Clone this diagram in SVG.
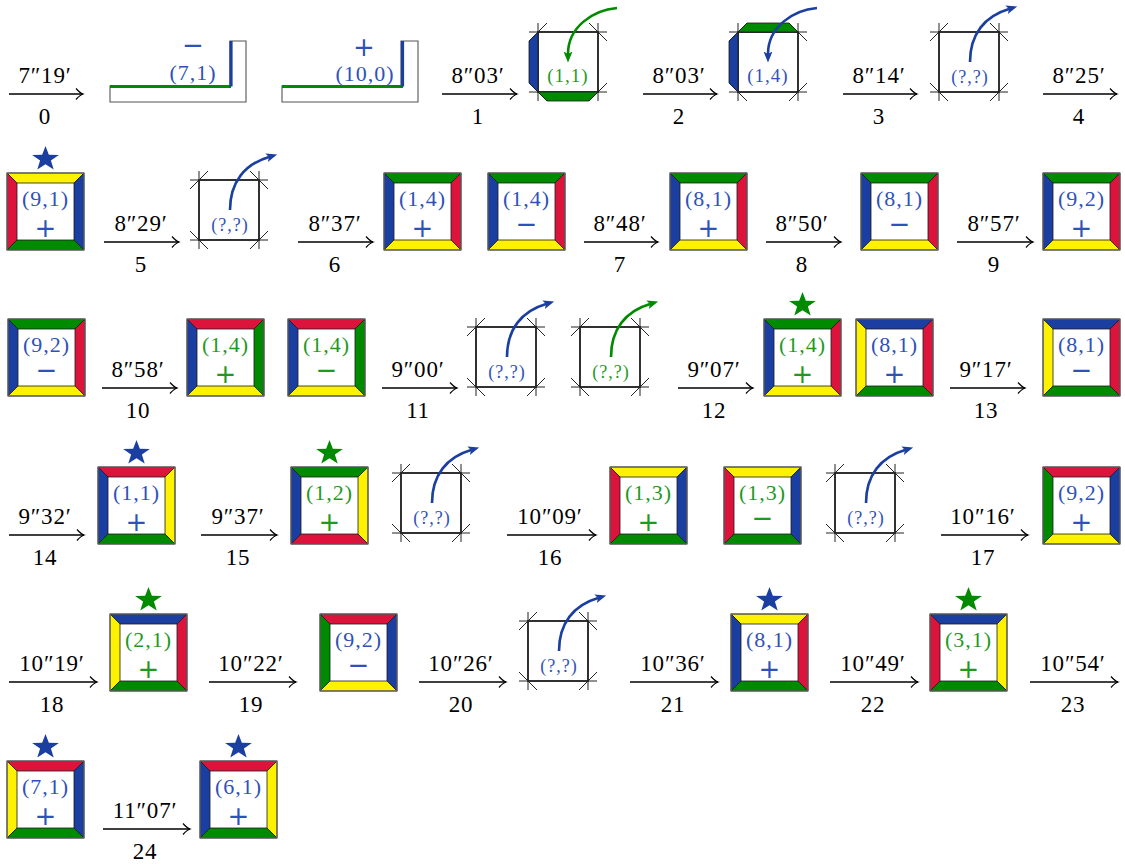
<svg xmlns="http://www.w3.org/2000/svg" width="1125" height="864" viewBox="0 0 1125 864">
<style>
.t{font-family:"Liberation Serif","DejaVu Serif","Times New Roman",serif;font-size:23px;letter-spacing:0.8px;fill:#000;text-anchor:middle}
.c{font-family:"Liberation Serif","DejaVu Serif","Times New Roman",serif;font-size:22px;letter-spacing:1px;text-anchor:middle}
.q{font-family:"Liberation Serif","DejaVu Serif","Times New Roman",serif;font-size:18px;letter-spacing:1px;text-anchor:middle}
.s{font-family:"DejaVu Sans",sans-serif;font-size:26px;text-anchor:middle}
.tb{fill:#2f52b8}.tg{fill:#1f9a1f}
.Y{fill:#fff200}.R{fill:#dc143c}.B{fill:#1b3fa0}.G{fill:#008a00}
.p{stroke:#1a1a1a;stroke-width:0.8}
.fo{fill:none;stroke:#666;stroke-width:1.2}
.sq{fill:none;stroke:#111;stroke-width:1.6}
.ext{fill:none;stroke:#222;stroke-width:1}
.ar{fill:none;stroke:#000;stroke-width:1.3;marker-end:url(#ah)}
.cb{fill:none;stroke:#1b3fa0;stroke-width:2.6;marker-end:url(#hb)}
.cg{fill:none;stroke:#008a00;stroke-width:2.6;marker-end:url(#hg)}
</style>
<defs>
<path id="pt" d="M0,0H77L67,10H10Z"/>
<path id="pb" d="M0,77H77L67,67H10Z"/>
<path id="pl" d="M0,0L10,10V67L0,77Z"/>
<path id="pr" d="M77,0L67,10V67L77,77Z"/>
<polygon id="st" points="0,-13 3.1,-4.3 12.4,-4 5,1.6 7.6,10.5 0,5.3 -7.6,10.5 -5,1.6 -12.4,-4 -3.1,-4.3" transform="scale(1.08,1)"/>
<path id="ex" class="ext" d="M-9,0H69M-9,60H69M0,-9V69M60,-9V69M-9,9L9,-9M51,-9L69,9M-9,51L9,69M51,69L69,51"/>
<marker id="ah" viewBox="-8 -7 10 14" markerWidth="10" markerHeight="14" refX="0" refY="0" orient="auto" markerUnits="userSpaceOnUse"><path d="M-7,-5.5Q-3,-1 0,0Q-3,1 -7,5.5" fill="none" stroke="#000" stroke-width="1.2"/></marker>
<marker id="hb" viewBox="0 -5 12 10" markerWidth="12" markerHeight="10" refX="2.5" refY="0" orient="auto" markerUnits="userSpaceOnUse"><path d="M0,-4.5L11,0L0,4.5L2.5,0Z" fill="#1b3fa0"/></marker>
<marker id="hg" viewBox="0 -5 12 10" markerWidth="12" markerHeight="10" refX="2.5" refY="0" orient="auto" markerUnits="userSpaceOnUse"><path d="M0,-4.5L11,0L0,4.5L2.5,0Z" fill="#008a00"/></marker>
</defs>

<g id="connectors">
<path class="ar" d="M9,94H83"/><text class="t" x="45" y="83">7″19′</text><text class="t" x="45" y="124">0</text>
<path class="ar" d="M442,94H517"/><text class="t" x="478" y="83">8″03′</text><text class="t" x="478" y="124">1</text>
<path class="ar" d="M643,94H717"/><text class="t" x="679" y="83">8″03′</text><text class="t" x="679" y="124">2</text>
<path class="ar" d="M843,94H917"/><text class="t" x="879" y="83">8″14′</text><text class="t" x="879" y="124">3</text>
<path class="ar" d="M1043,94H1117"/><text class="t" x="1079" y="83">8″25′</text><text class="t" x="1079" y="124">4</text>

<path class="ar" d="M104,242H179"/><text class="t" x="141" y="231">8″29′</text><text class="t" x="141" y="272">5</text>
<path class="ar" d="M298,242H373"/><text class="t" x="335" y="231">8″37′</text><text class="t" x="335" y="272">6</text>
<path class="ar" d="M584,242H658"/><text class="t" x="620" y="231">8″48′</text><text class="t" x="620" y="272">7</text>
<path class="ar" d="M766,242H841"/><text class="t" x="802" y="231">8″50′</text><text class="t" x="802" y="272">8</text>
<path class="ar" d="M957,242H1033"/><text class="t" x="994" y="231">8″57′</text><text class="t" x="994" y="272">9</text>

<path class="ar" d="M102,388H177"/><text class="t" x="138" y="377">8″58′</text><text class="t" x="138" y="418">10</text>
<path class="ar" d="M382,388H457"/><text class="t" x="418" y="377">9″00′</text><text class="t" x="418" y="418">11</text>
<path class="ar" d="M678,388H753"/><text class="t" x="714" y="377">9″07′</text><text class="t" x="714" y="418">12</text>
<path class="ar" d="M950,388H1025"/><text class="t" x="986" y="377">9″17′</text><text class="t" x="986" y="418">13</text>

<path class="ar" d="M9,535H84"/><text class="t" x="45" y="524">9″32′</text><text class="t" x="45" y="565">14</text>
<path class="ar" d="M201,535H277"/><text class="t" x="238" y="524">9″37′</text><text class="t" x="238" y="565">15</text>
<path class="ar" d="M507,535H596"/><text class="t" x="550" y="524">10″09′</text><text class="t" x="550" y="565">16</text>
<path class="ar" d="M941,535H1028"/><text class="t" x="983" y="524">10″16′</text><text class="t" x="983" y="565">17</text>

<path class="ar" d="M9,682H97"/><text class="t" x="52" y="671">10″19′</text><text class="t" x="52" y="712">18</text>
<path class="ar" d="M209,682H296"/><text class="t" x="251" y="671">10″22′</text><text class="t" x="251" y="712">19</text>
<path class="ar" d="M419,682H506"/><text class="t" x="461" y="671">10″26′</text><text class="t" x="461" y="712">20</text>
<path class="ar" d="M630,682H718"/><text class="t" x="673" y="671">10″36′</text><text class="t" x="673" y="712">21</text>
<path class="ar" d="M830,682H918"/><text class="t" x="873" y="671">10″49′</text><text class="t" x="873" y="712">22</text>
<path class="ar" d="M1030,682H1118"/><text class="t" x="1073" y="671">10″54′</text><text class="t" x="1073" y="712">23</text>

<path class="ar" d="M103,829H190"/><text class="t" x="145" y="818">11″07′</text><text class="t" x="145" y="859">24</text>
</g>

<g id="L1">
<path d="M110,86H230V41H246V102H110Z" fill="none" stroke="#555" stroke-width="1.1"/>
<path d="M110,86.5H231" stroke="#008a00" stroke-width="3"/>
<path d="M231,41V86.5" stroke="#1b3fa0" stroke-width="3.2"/>
<text class="s tb" x="193" y="54">−</text>
<text class="c tb" x="193" y="80">(7,1)</text>
</g>
<g id="L2">
<path d="M282,86H401V41H418V102H282Z" fill="none" stroke="#555" stroke-width="1.1"/>
<path d="M282,86.5H403" stroke="#008a00" stroke-width="3"/>
<path d="M402.5,41V86.5" stroke="#1b3fa0" stroke-width="3.2"/>
<text class="s tb" x="364" y="56">+</text>
<text class="c tb" x="365" y="81">(10,0)</text>
</g>

<g id="eA" transform="translate(538,32)">
<rect class="sq" width="60" height="60"/><use href="#ex"/>
<path class="p B" d="M0,0V60L-9,51V9Z"/>
<path class="p G" d="M0,60H60L51,69H9Z"/>
<text class="q tg" x="30" y="50" style="font-size:19px">(1,1)</text>
<path class="cg" d="M79,-24C55,-22 30,-5 30,22"/>
</g>
<g id="eB" transform="translate(738,32)">
<rect class="sq" width="60" height="60"/><use href="#ex"/>
<path class="p B" d="M0,0V60L-9,51V9Z"/>
<path class="p G" d="M0,0H60L51,-9H9Z"/>
<text class="q tb" x="30" y="50" style="font-size:19px">(1,4)</text>
<path class="cb" d="M79,-24C55,-22 30,-5 30,22"/>
</g>
<g id="eC" transform="translate(939,32)">
<rect class="sq" width="60" height="60"/><use href="#ex"/>
<text class="q tb" x="31" y="51">(?,?)</text>
<path class="cb" d="M31,30C31,2 46,-16 70,-23"/>
</g>

<g id="f1" transform="translate(7,173)"><use href="#pt" class="p Y"/><use href="#pl" class="p R"/><use href="#pr" class="p B"/><use href="#pb" class="p G"/><rect class="fo" width="77" height="77"/><text class="c tb" x="38.5" y="33">(9,1)</text><text class="s tb" x="38.5" y="64">+</text><use href="#st" class="B" transform="translate(38.5,-14)"/></g>
<g id="eD" transform="translate(199,180)">
<rect class="sq" width="60" height="60"/><use href="#ex"/>
<text class="q tb" x="31" y="51">(?,?)</text>
<path class="cb" d="M31,30C31,2 46,-16 70,-23"/>
</g>
<g id="f2" transform="translate(384,173)"><use href="#pt" class="p G"/><use href="#pl" class="p B"/><use href="#pr" class="p R"/><use href="#pb" class="p Y"/><rect class="fo" width="77" height="77"/><text class="c tb" x="38.5" y="33">(1,4)</text><text class="s tb" x="38.5" y="64">+</text></g>
<g id="f3" transform="translate(488,173)"><use href="#pt" class="p G"/><use href="#pl" class="p B"/><use href="#pr" class="p R"/><use href="#pb" class="p Y"/><rect class="fo" width="77" height="77"/><text class="c tb" x="38.5" y="33">(1,4)</text><text class="s tb" x="38.5" y="60">−</text></g>
<g id="f4" transform="translate(670,173)"><use href="#pt" class="p G"/><use href="#pl" class="p B"/><use href="#pr" class="p R"/><use href="#pb" class="p Y"/><rect class="fo" width="77" height="77"/><text class="c tb" x="38.5" y="33">(8,1)</text><text class="s tb" x="38.5" y="64">+</text></g>
<g id="f5" transform="translate(861,173)"><use href="#pt" class="p G"/><use href="#pl" class="p B"/><use href="#pr" class="p R"/><use href="#pb" class="p Y"/><rect class="fo" width="77" height="77"/><text class="c tb" x="38.5" y="33">(8,1)</text><text class="s tb" x="38.5" y="60">−</text></g>
<g id="f6" transform="translate(1043,173)"><use href="#pt" class="p G"/><use href="#pl" class="p B"/><use href="#pr" class="p R"/><use href="#pb" class="p Y"/><rect class="fo" width="77" height="77"/><text class="c tb" x="38.5" y="33">(9,2)</text><text class="s tb" x="38.5" y="64">+</text></g>

<g id="f7" transform="translate(8,319)"><use href="#pt" class="p G"/><use href="#pl" class="p B"/><use href="#pr" class="p R"/><use href="#pb" class="p Y"/><rect class="fo" width="77" height="77"/><text class="c tb" x="38.5" y="33">(9,2)</text><text class="s tb" x="38.5" y="60">−</text></g>
<g id="f8" transform="translate(187,319)"><use href="#pt" class="p R"/><use href="#pl" class="p B"/><use href="#pr" class="p G"/><use href="#pb" class="p Y"/><rect class="fo" width="77" height="77"/><text class="c tg" x="38.5" y="33">(1,4)</text><text class="s tg" x="38.5" y="64">+</text></g>
<g id="f9" transform="translate(288,319)"><use href="#pt" class="p R"/><use href="#pl" class="p B"/><use href="#pr" class="p G"/><use href="#pb" class="p Y"/><rect class="fo" width="77" height="77"/><text class="c tg" x="38.5" y="33">(1,4)</text><text class="s tg" x="38.5" y="60">−</text></g>
<g id="eE" transform="translate(476,327)">
<rect class="sq" width="60" height="60"/><use href="#ex"/>
<text class="q tb" x="31" y="51">(?,?)</text>
<path class="cb" d="M31,30C31,2 46,-16 70,-23"/>
</g>
<g id="eF" transform="translate(580,327)">
<rect class="sq" width="60" height="60"/><use href="#ex"/>
<text class="q tg" x="31" y="51">(?,?)</text>
<path class="cg" d="M31,30C31,2 46,-16 70,-23"/>
</g>
<g id="f10" transform="translate(764,319)"><use href="#pt" class="p G"/><use href="#pl" class="p B"/><use href="#pr" class="p R"/><use href="#pb" class="p Y"/><rect class="fo" width="77" height="77"/><text class="c tg" x="38.5" y="33">(1,4)</text><text class="s tg" x="38.5" y="64">+</text><use href="#st" class="G" transform="translate(38.5,-14)"/></g>
<g id="f11" transform="translate(856,319)"><use href="#pt" class="p B"/><use href="#pl" class="p Y"/><use href="#pr" class="p R"/><use href="#pb" class="p G"/><rect class="fo" width="77" height="77"/><text class="c tb" x="38.5" y="33">(8,1)</text><text class="s tb" x="38.5" y="64">+</text></g>
<g id="f12" transform="translate(1043,319)"><use href="#pt" class="p B"/><use href="#pl" class="p Y"/><use href="#pr" class="p R"/><use href="#pb" class="p G"/><rect class="fo" width="77" height="77"/><text class="c tb" x="38.5" y="33">(8,1)</text><text class="s tb" x="38.5" y="60">−</text></g>

<g id="f13" transform="translate(98,467)"><use href="#pt" class="p R"/><use href="#pl" class="p B"/><use href="#pr" class="p Y"/><use href="#pb" class="p G"/><rect class="fo" width="77" height="77"/><text class="c tb" x="38.5" y="33">(1,1)</text><text class="s tb" x="38.5" y="64">+</text><use href="#st" class="B" transform="translate(38.5,-14)"/></g>
<g id="f14" transform="translate(291,467)"><use href="#pt" class="p G"/><use href="#pl" class="p B"/><use href="#pr" class="p Y"/><use href="#pb" class="p R"/><rect class="fo" width="77" height="77"/><text class="c tg" x="38.5" y="33">(1,2)</text><text class="s tg" x="38.5" y="64">+</text><use href="#st" class="G" transform="translate(38.5,-14)"/></g>
<g id="eG" transform="translate(401,473)">
<rect class="sq" width="60" height="60"/><use href="#ex"/>
<text class="q tb" x="31" y="51">(?,?)</text>
<path class="cb" d="M31,30C31,2 46,-16 70,-23"/>
</g>
<g id="f15" transform="translate(610,467)"><use href="#pt" class="p Y"/><use href="#pl" class="p R"/><use href="#pr" class="p B"/><use href="#pb" class="p G"/><rect class="fo" width="77" height="77"/><text class="c tg" x="38.5" y="33">(1,3)</text><text class="s tg" x="38.5" y="64">+</text></g>
<g id="f16" transform="translate(724,467)"><use href="#pt" class="p Y"/><use href="#pl" class="p R"/><use href="#pr" class="p B"/><use href="#pb" class="p G"/><rect class="fo" width="77" height="77"/><text class="c tg" x="38.5" y="33">(1,3)</text><text class="s tg" x="38.5" y="60">−</text></g>
<g id="eH" transform="translate(835,473)">
<rect class="sq" width="60" height="60"/><use href="#ex"/>
<text class="q tb" x="31" y="51">(?,?)</text>
<path class="cb" d="M31,30C31,2 46,-16 70,-23"/>
</g>
<g id="f17" transform="translate(1043,467)"><use href="#pt" class="p R"/><use href="#pl" class="p G"/><use href="#pr" class="p B"/><use href="#pb" class="p Y"/><rect class="fo" width="77" height="77"/><text class="c tb" x="38.5" y="33">(9,2)</text><text class="s tb" x="38.5" y="64">+</text></g>

<g id="f18" transform="translate(110,614)"><use href="#pt" class="p B"/><use href="#pl" class="p Y"/><use href="#pr" class="p R"/><use href="#pb" class="p G"/><rect class="fo" width="77" height="77"/><text class="c tg" x="38.5" y="33">(2,1)</text><text class="s tg" x="38.5" y="64">+</text><use href="#st" class="G" transform="translate(38.5,-14)"/></g>
<g id="f19" transform="translate(320,614)"><use href="#pt" class="p R"/><use href="#pl" class="p G"/><use href="#pr" class="p B"/><use href="#pb" class="p Y"/><rect class="fo" width="77" height="77"/><text class="c tb" x="38.5" y="33">(9,2)</text><text class="s tb" x="38.5" y="60">−</text></g>
<g id="eI" transform="translate(528,621)">
<rect class="sq" width="60" height="60"/><use href="#ex"/>
<text class="q tb" x="31" y="51">(?,?)</text>
<path class="cb" d="M31,30C31,2 46,-16 70,-23"/>
</g>
<g id="f20" transform="translate(731,614)"><use href="#pt" class="p Y"/><use href="#pl" class="p B"/><use href="#pr" class="p R"/><use href="#pb" class="p G"/><rect class="fo" width="77" height="77"/><text class="c tb" x="38.5" y="33">(8,1)</text><text class="s tb" x="38.5" y="64">+</text><use href="#st" class="B" transform="translate(38.5,-14)"/></g>
<g id="f21" transform="translate(930,614)"><use href="#pt" class="p B"/><use href="#pl" class="p R"/><use href="#pr" class="p Y"/><use href="#pb" class="p G"/><rect class="fo" width="77" height="77"/><text class="c tg" x="38.5" y="33">(3,1)</text><text class="s tg" x="38.5" y="64">+</text><use href="#st" class="G" transform="translate(38.5,-14)"/></g>

<g id="f22" transform="translate(7,761)"><use href="#pt" class="p R"/><use href="#pl" class="p Y"/><use href="#pr" class="p B"/><use href="#pb" class="p G"/><rect class="fo" width="77" height="77"/><text class="c tb" x="38.5" y="33">(7,1)</text><text class="s tb" x="38.5" y="64">+</text><use href="#st" class="B" transform="translate(38.5,-14)"/></g>
<g id="f23" transform="translate(200,761)"><use href="#pt" class="p R"/><use href="#pl" class="p B"/><use href="#pr" class="p Y"/><use href="#pb" class="p G"/><rect class="fo" width="77" height="77"/><text class="c tb" x="38.5" y="33">(6,1)</text><text class="s tb" x="38.5" y="64">+</text><use href="#st" class="B" transform="translate(38.5,-14)"/></g>
</svg>
